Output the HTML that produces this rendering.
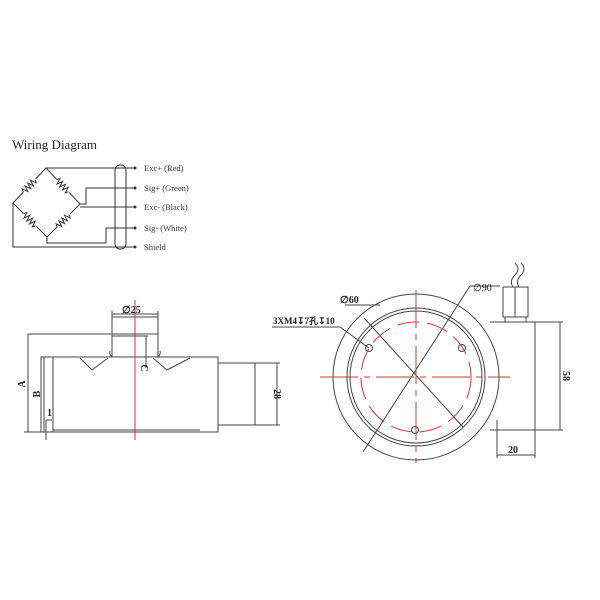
<!DOCTYPE html>
<html><head><style>body{margin:0;background:#fff}svg{display:block}</style></head><body>
<svg width="600" height="600" viewBox="0 0 600 600" xmlns="http://www.w3.org/2000/svg" font-family="Liberation Serif, serif">
<rect width="600" height="600" fill="#fff"/>
<!-- Wiring diagram -->
<text x="12" y="149" font-size="13" fill="#222">Wiring  Diagram</text>
<g stroke="#333" stroke-width="1" fill="none">
<path d="M46,168 L13,203 L47,237 L80,204 Z"/>
<g transform="translate(29.5,185.5) rotate(-46.7)"><rect x="-9" y="-3" width="18" height="6" fill="#fff" stroke="none"/><path d="M-9,0 l1.5,-3 l2,6 l2,-6 l2,6 l2,-6 l2,6 l2,-6 l2,6 l1.5,-3"/></g>
<g transform="translate(63,186) rotate(46.6)"><rect x="-9" y="-3" width="18" height="6" fill="#fff" stroke="none"/><path d="M-9,0 l1.5,-3 l2,6 l2,-6 l2,6 l2,-6 l2,6 l2,-6 l2,6 l1.5,-3"/></g>
<g transform="translate(30,220) rotate(45.8)"><rect x="-9" y="-3" width="18" height="6" fill="#fff" stroke="none"/><path d="M-9,0 l1.5,-3 l2,6 l2,-6 l2,6 l2,-6 l2,6 l2,-6 l2,6 l1.5,-3"/></g>
<g transform="translate(63.5,220.5) rotate(-45)"><rect x="-9" y="-3" width="18" height="6" fill="#fff" stroke="none"/><path d="M-9,0 l1.5,-3 l2,6 l2,-6 l2,6 l2,-6 l2,6 l2,-6 l2,6 l1.5,-3"/></g>
<path d="M46,168 H135"/>
<path d="M80,204 H86 V188 H135"/>
<path d="M80,207 H135"/>
<path d="M47,237 V243 H106 V228 H135"/>
<path d="M13,203 V247 H135"/>
<rect x="115" y="165" width="11" height="84" rx="5"/>
</g>
<g fill="#333"><circle cx="135" cy="168" r="1.5"/><circle cx="135" cy="188" r="1.5"/><circle cx="135" cy="207" r="1.5"/><circle cx="135" cy="228" r="1.5"/><circle cx="135" cy="247" r="1.5"/></g>
<g font-size="8.5" fill="#333">
<text x="144" y="171">Exc+  (Red)</text>
<text x="144" y="191">Sig+  (Green)</text>
<text x="144" y="210">Exc-   (Black)</text>
<text x="144" y="231">Sig-   (White)</text>
<text x="144" y="250">Shield</text>
</g>
<!-- Left view -->
<g stroke="#444" stroke-width="1" fill="none">
<rect x="41" y="357" width="177" height="75"/>
<line x1="53" y1="357" x2="53" y2="432"/>
<line x1="53" y1="430" x2="200" y2="430"/>
<rect x="112" y="317" width="46" height="40"/>
<line x1="112" y1="334" x2="158" y2="334"/>
<line x1="112" y1="336" x2="148" y2="336"/>
<rect x="218" y="363" width="37" height="62"/>
<path d="M80,358 L92,370 L108,358 M153,358 L167,370 L190,358"/>
<path d="M112,357 q-3,-3 -2,-6 M158,357 q3,-3 2,-6"/>
<line x1="112" y1="317" x2="112" y2="311"/><line x1="158" y1="317" x2="158" y2="311"/>
<line x1="112" y1="314" x2="158" y2="314"/>
<line x1="255" y1="363" x2="280" y2="363"/><line x1="255" y1="425" x2="280" y2="425"/>
<line x1="277" y1="363" x2="277" y2="425"/>
<line x1="28" y1="334" x2="112" y2="334"/><line x1="28" y1="334" x2="28" y2="432"/>
<line x1="24" y1="432" x2="41" y2="432"/>
<line x1="41" y1="357" x2="41" y2="432"/>
<line x1="44" y1="357" x2="44" y2="432"/>
<line x1="46" y1="420" x2="46" y2="440"/><line x1="46" y1="420" x2="52" y2="420"/>
<line x1="146" y1="336" x2="146" y2="368"/>
</g>
<line x1="135" y1="300" x2="135" y2="440" stroke="#d33" stroke-width="1"/>
<g font-size="10" fill="#222" font-weight="bold">
<text x="122" y="313">∅25</text>
<text x="274" y="394" transform="rotate(90 274 394)" text-anchor="middle">28</text>
<text x="25" y="384" transform="rotate(-90 25 384)" text-anchor="middle">A</text>
<text x="40" y="394" transform="rotate(-90 40 394)" text-anchor="middle">B</text>
<text x="141" y="368" transform="rotate(90 141 368)" text-anchor="middle">C</text>
<text x="47" y="416">1</text>
</g>
<!-- Right view -->
<g stroke="#444" stroke-width="1" fill="none">
<path d="M490,322 H535 V430 H490"/>
<line x1="535" y1="322" x2="563" y2="322"/><line x1="535" y1="430" x2="563" y2="430"/>
<line x1="560" y1="322" x2="560" y2="430"/>
<line x1="497" y1="420" x2="497" y2="458"/><line x1="535" y1="430" x2="535" y2="458"/>
<line x1="497" y1="455" x2="535" y2="455"/>
<rect x="503" y="287" width="25" height="30"/>
<rect x="505" y="317" width="21" height="5"/>
<line x1="515" y1="287" x2="515" y2="317"/>
<path d="M513,287 q-4,-6 2,-12 q6,-6 0,-12 M519,287 q-4,-6 2,-12 q6,-6 0,-12"/>
<circle cx="416" cy="377" r="83" fill="#fff"/>
<circle cx="416" cy="377" r="69"/>
<circle cx="416" cy="377" r="66"/>
<line x1="364" y1="318" x2="463" y2="427"/>
<line x1="363" y1="452" x2="470" y2="286"/>
<line x1="470" y1="286" x2="500" y2="286"/>
<line x1="345" y1="305" x2="380" y2="305"/>
<line x1="272" y1="327" x2="340" y2="327"/><line x1="340" y1="327" x2="369" y2="348"/>
<circle cx="369" cy="348" r="3.5"/><circle cx="462" cy="348" r="3.5"/><circle cx="415" cy="430" r="3.5"/>
</g>
<g stroke="#d33" stroke-width="1" fill="none">
<circle cx="416" cy="377" r="55" stroke-dasharray="22 8"/>
<line x1="320" y1="377" x2="510" y2="377" stroke-dasharray="38 6 6 6"/>
<line x1="416" y1="290" x2="416" y2="463" stroke-dasharray="38 6 6 6"/>
</g>
<g font-size="10" fill="#222" font-weight="bold">
<text x="340" y="303">∅60</text>
<text x="473" y="291" font-weight="normal">∅90</text>
<text x="273" y="324" font-size="9">3XM4↧7孔↧10</text>
<text x="508" y="453">20</text>
<text x="563" y="376" transform="rotate(90 563 376)" text-anchor="middle">58</text>
</g>
</svg>
</body></html>
